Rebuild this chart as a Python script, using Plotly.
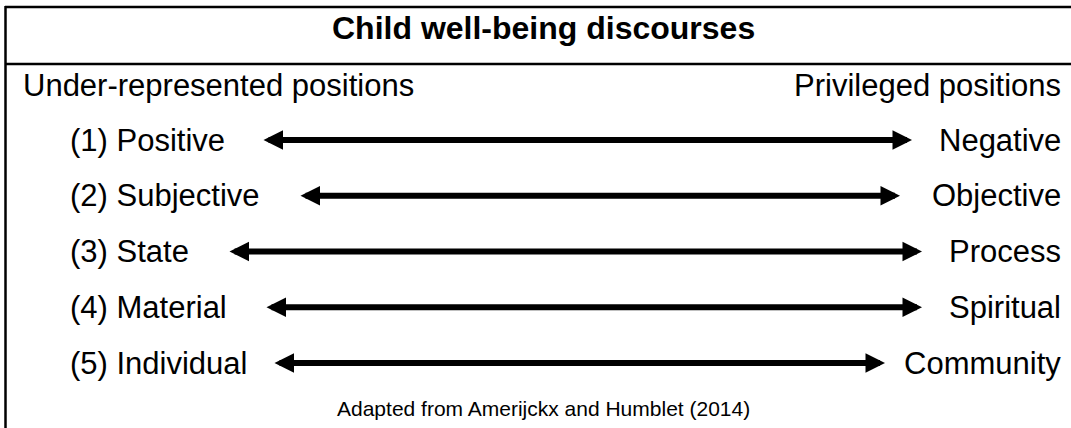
import plotly.graph_objects as go

# ---- data ----
title_text = "Child well-being discourses"
header_left = "Under-represented positions"
header_right = "Privileged positions"
left_labels = ["(1) Positive", "(2) Subjective", "(3) State", "(4) Material", "(5) Individual"]
right_labels = ["Negative", "Objective", "Process", "Spiritual", "Community"]
row_index = [1, 2, 3, 4, 5]
arrow_left_x = [262, 299, 228, 265, 273]
arrow_right_x = [912, 900, 922, 922, 885]
source_text = "Adapted from Amerijckx and Humblet (2014)"

W, H = 1071, 428
FONT = "Liberation Sans, Arial, sans-serif"
MAIN = 31

def py(px):
    return 1 - px / H

def px_x(px):
    return px / W

fig = go.Figure()
# invisible trace to set up axes
fig.add_trace(go.Scatter(x=arrow_left_x + arrow_right_x, y=row_index + row_index,
                         mode="markers", marker=dict(opacity=0), hoverinfo="skip",
                         showlegend=False))

annotations = []
# arrows
for r, xl, xr in zip(row_index, arrow_left_x, arrow_right_x):
    annotations.append(dict(
        x=xr, y=r, ax=xl, ay=r, xref="x", yref="y", axref="x", ayref="y",
        text="", showarrow=True, arrowside="end+start",
        arrowhead=2, startarrowhead=2, arrowsize=0.65, startarrowsize=0.65,
        arrowwidth=6, arrowcolor="black", standoff=0, startstandoff=0))
# row labels
for r, lab in zip(row_index, left_labels):
    annotations.append(dict(x=px_x(68), y=r, xref="paper", yref="y", text=lab,
                            showarrow=False, xanchor="left", yanchor="middle",
                            font=dict(family=FONT, size=MAIN, color="black")))
for r, lab in zip(row_index, right_labels):
    annotations.append(dict(x=px_x(1063), y=r, xref="paper", yref="y", text=lab,
                            showarrow=False, xanchor="right", yanchor="middle",
                            font=dict(family=FONT, size=MAIN, color="black")))
# title
annotations.append(dict(x=px_x(543), y=py(28), xref="paper", yref="paper",
                        text="<b>" + title_text + "</b>", showarrow=False,
                        xanchor="center", yanchor="middle",
                        font=dict(family=FONT, size=32, color="black")))
# headers
annotations.append(dict(x=px_x(21), y=py(86), xref="paper", yref="paper",
                        text=header_left, showarrow=False, xanchor="left", yanchor="middle",
                        font=dict(family=FONT, size=MAIN, color="black")))
annotations.append(dict(x=px_x(1063), y=py(86), xref="paper", yref="paper",
                        text=header_right, showarrow=False, xanchor="right", yanchor="middle",
                        font=dict(family=FONT, size=MAIN, color="black")))
# source
annotations.append(dict(x=px_x(543), y=py(408), xref="paper", yref="paper",
                        text=source_text, showarrow=False, xanchor="center", yanchor="middle",
                        font=dict(family=FONT, size=21, color="black")))

shapes = [
    dict(type="line", xref="paper", yref="paper", x0=px_x(5), x1=1, y0=py(7), y1=py(7),
         line=dict(color="black", width=2.5)),
    dict(type="line", xref="paper", yref="paper", x0=px_x(5), x1=1, y0=py(64), y1=py(64),
         line=dict(color="black", width=2.5)),
    dict(type="line", xref="paper", yref="paper", x0=px_x(5.5), x1=px_x(5.5), y0=py(6), y1=0,
         line=dict(color="black", width=2.5)),
]

rows_top = 1 - 140 / 55.75
rows_bot = 1 + (H - 140) / 55.75

fig.update_layout(
    width=W, height=H, margin=dict(l=0, r=0, t=0, b=0),
    paper_bgcolor="white", plot_bgcolor="white",
    xaxis=dict(range=[0, W], visible=False, fixedrange=True),
    yaxis=dict(range=[rows_bot, rows_top], visible=False, fixedrange=True),
    annotations=annotations, shapes=shapes, showlegend=False,
)

fig.write_html("out.html", config=dict(displayModeBar=False),
               post_script="document.body.style.margin='0';document.body.style.overflow='hidden';")
